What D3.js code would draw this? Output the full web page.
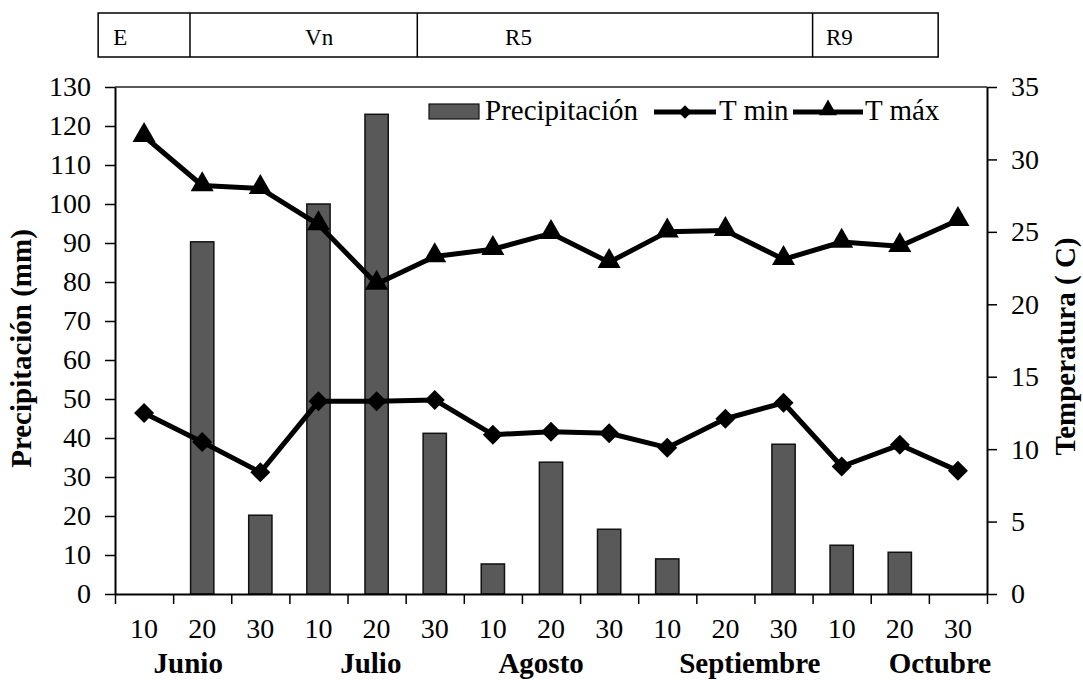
<!DOCTYPE html>
<html>
<head>
<meta charset="utf-8">
<script src="https://cdn.jsdelivr.net/npm/d3@7"></script>
<style>
  html, body { margin: 0; padding: 0; background: #fff; }
</style>
</head>
<body>
<svg id="chart" width="1083" height="680"></svg>
<script>
// ---- data ----
const periods = ["10","20","30","10","20","30","10","20","30","10","20","30","10","20","30"];
const months = ["Junio","Julio","Agosto","Septiembre","Octubre"];
const precipitacion = [0, 90.3, 20.2, 100, 123, 41.2, 7.7, 33.8, 16.6, 9.0, 0, 38.4, 12.5, 10.7, 0];
const tMin = [12.5, 10.5, 8.4, 13.3, 13.3, 13.4, 11.0, 11.2, 11.1, 10.1, 12.1, 13.2, 8.8, 10.3, 8.5];
const tMax = [31.6, 28.2, 28.0, 25.5, 21.4, 23.3, 23.8, 24.9, 22.9, 25.0, 25.1, 23.1, 24.3, 24.0, 25.8];
const leftTicks = [0,10,20,30,40,50,60,70,80,90,100,110,120,130];
const rightTicks = [0,5,10,15,20,25,30,35];
const phases = ["E", "Vn", "R5", "R9"];
const phaseBounds = [-0.29, 1.29, 5.2, 12.0, 14.16]; // in period units
const phaseTextAt = [-0.03, 3.27, 6.71, 12.23];      // in period units
const monthAt = [1.26, 4.4, 7.33, 10.92, 14.19];     // label centres in period units

// ---- layout ----
const FONT = "'Liberation Serif', 'Times New Roman', Times, serif";
const L = 115, R = 987, T = 87, B = 594;
const svg = d3.select("#chart").attr("font-family", FONT);

const xIdx = d3.scaleLinear().domain([0, periods.length]).range([L, R]);
const xBand = d3.scaleBand().domain(d3.range(periods.length)).range([L, R])
  .paddingInner(0.6).paddingOuter(0.3);
const yL = d3.scaleLinear().domain([0, 130]).range([B, T]);
const yR = d3.scaleLinear().domain([0, 35]).range([B, T]);
const cx = i => xBand(i) + xBand.bandwidth() / 2;

// top frame line
svg.append("line").attr("x1", L).attr("x2", R).attr("y1", T).attr("y2", T)
  .attr("stroke", "#222").attr("stroke-width", 1.5);

// bars
svg.append("g").selectAll("rect")
  .data(precipitacion.map((v, i) => ({v, i})).filter(d => d.v > 0))
  .join("rect")
  .attr("x", d => xBand(d.i))
  .attr("y", d => yL(d.v))
  .attr("width", xBand.bandwidth())
  .attr("height", d => B - yL(d.v))
  .attr("fill", "#595959").attr("stroke", "#111").attr("stroke-width", 1.5);

// lines
const line = d3.line().x((d, i) => cx(i)).y(d => yR(d));
[tMin, tMax].forEach(s => {
  svg.append("path").datum(s).attr("d", line).attr("fill", "none")
    .attr("stroke", "#000").attr("stroke-width", 5).attr("stroke-linejoin", "round");
});
svg.append("g").selectAll("path").data(tMin).join("path")
  .attr("d", d3.symbol().type(d3.symbolSquare).size(200))
  .attr("transform", (d, i) => `translate(${cx(i)},${yR(d)}) rotate(45)`)
  .attr("fill", "#000");
svg.append("g").selectAll("path").data(tMax).join("path")
  .attr("d", d3.symbol().type(d3.symbolTriangle).size(230))
  .attr("transform", (d, i) => `translate(${cx(i)},${yR(d) - 1})`)
  .attr("fill", "#000");

// axes
const fs = "28px";
const gL = svg.append("g").attr("transform", `translate(${L},0)`)
  .call(d3.axisLeft(yL).tickValues(leftTicks).tickSize(10).tickSizeOuter(0).tickPadding(14));
const gR = svg.append("g").attr("transform", `translate(${R},0)`)
  .call(d3.axisRight(yR).tickValues(rightTicks).tickSize(10).tickSizeOuter(0).tickPadding(14));
const gB = svg.append("g").attr("transform", `translate(0,${B})`)
  .call(d3.axisBottom(xIdx).tickValues(d3.range(periods.length + 1)).tickSize(10)
    .tickSizeOuter(0).tickFormat(""));
const gBL = svg.append("g").attr("transform", `translate(0,${B})`)
  .call(d3.axisBottom(xBand).tickSize(0).tickPadding(24).tickFormat(i => periods[i]));
gBL.select(".domain").remove();

[gL, gR, gB, gBL].forEach(g => {
  g.attr("font-family", FONT).attr("font-size", fs);
  g.selectAll(".domain").attr("stroke", "#000").attr("stroke-width", 2);
  g.selectAll(".tick line").attr("stroke", "#000").attr("stroke-width", 1.5);
  g.selectAll("text").attr("font-size", fs).attr("font-family", FONT).attr("fill", "#000");
});

// month labels
svg.append("g").selectAll("text").data(months).join("text")
  .attr("x", (d, i) => xIdx(monthAt[i]))
  .attr("y", 673)
  .attr("text-anchor", "middle").attr("font-family", FONT)
  .attr("font-size", "29px").attr("font-weight", "bold")
  .text(d => d);

// axis titles
svg.append("text")
  .attr("transform", `translate(31,${(T + B) / 2 + 8}) rotate(-90)`)
  .attr("text-anchor", "middle").attr("font-family", FONT)
  .attr("font-size", "29px").attr("font-weight", "bold")
  .text("Precipitación (mm)");
svg.append("text")
  .attr("transform", `translate(1075,${(T + B) / 2 + 6}) rotate(-90)`)
  .attr("text-anchor", "middle").attr("font-family", FONT)
  .attr("font-size", "29px").attr("font-weight", "bold")
  .text("Temperatura ( C)");

// legend
const lfs = "29px";
const lg = svg.append("g").attr("font-family", FONT);
lg.append("rect").attr("x", 429).attr("y", 104).attr("width", 50).attr("height", 15)
  .attr("fill", "#595959").attr("stroke", "#111").attr("stroke-width", 1.2);
lg.append("text").attr("x", 485).attr("y", 120).attr("font-size", lfs).text("Precipitación");
lg.append("line").attr("x1", 654).attr("x2", 716).attr("y1", 112).attr("y2", 112)
  .attr("stroke", "#000").attr("stroke-width", 5);
lg.append("path").attr("d", d3.symbol().type(d3.symbolSquare).size(90))
  .attr("transform", "translate(685,112) rotate(45)").attr("fill", "#000");
lg.append("text").attr("x", 719).attr("y", 120).attr("font-size", lfs).text("T min");
lg.append("line").attr("x1", 793).attr("x2", 863).attr("y1", 112).attr("y2", 112)
  .attr("stroke", "#000").attr("stroke-width", 5);
lg.append("path").attr("d", d3.symbol().type(d3.symbolTriangle).size(140))
  .attr("transform", "translate(828,110)").attr("fill", "#000");
lg.append("text").attr("x", 865).attr("y", 120).attr("font-size", lfs).text("T máx");

// phase bar
const pg = svg.append("g").attr("font-family", FONT);
pg.append("rect").attr("x", xIdx(phaseBounds[0])).attr("y", 13)
  .attr("width", xIdx(phaseBounds[4]) - xIdx(phaseBounds[0])).attr("height", 44)
  .attr("fill", "none").attr("stroke", "#000").attr("stroke-width", 1.5);
pg.selectAll("line").data(phaseBounds.slice(1, 4)).join("line")
  .attr("x1", d => xIdx(d)).attr("x2", d => xIdx(d)).attr("y1", 13).attr("y2", 57)
  .attr("stroke", "#000").attr("stroke-width", 1.5);
pg.selectAll("text").data(phases).join("text")
  .attr("x", (d, i) => xIdx(phaseTextAt[i]))
  .attr("y", 45).attr("font-size", "23px").text(d => d);
</script>
</body>
</html>
